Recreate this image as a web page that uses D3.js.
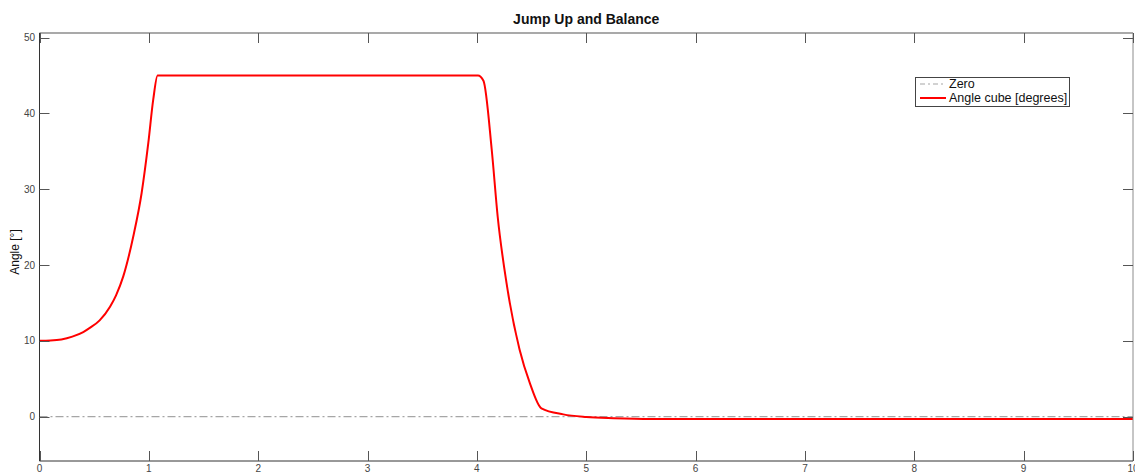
<!DOCTYPE html>
<html>
<head>
<meta charset="utf-8">
<script src="https://cdn.jsdelivr.net/npm/d3@7"></script>
<style>
  body { margin: 0; background: #fff; }
  text { font-family: "Liberation Sans", Arial, sans-serif; }
</style>
</head>
<body>
<div id="chart"></div>
<script>
// data
var timeValues = [0, 0.1, 0.2, 0.3, 0.4, 0.46, 0.55, 0.645, 0.7, 0.766, 0.858, 0.934, 0.995, 1.04, 1.08,
    2.5, 4.01, 4.06, 4.135, 4.19, 4.27, 4.39, 4.485, 4.59, 4.79, 5.0, 5.25, 5.6, 7, 10];
var angleValues = [10, 10.04, 10.18, 10.55, 11.15, 11.7, 12.7, 14.5, 16.0, 18.5, 23.8, 29.5, 36.1, 41.8, 45,
    45, 45, 44.3, 35.3, 26.4, 17.7, 8.85, 4.4, 1.1, 0.3, -0.04, -0.2, -0.3, -0.3, -0.3];
var xTicks = [0, 1, 2, 3, 4, 5, 6, 7, 8, 9, 10];
var yTicks = [0, 10, 20, 30, 40, 50];
var legendLabels = ["Zero", "Angle cube [degrees]"];

var width = 1135, height = 473;
var plot = { left: 39.5, right: 1133, top: 33, bottom: 461 };

var svg = d3.select("#chart")
    .append("svg")
    .attr("width", width)
    .attr("height", height);

var x = d3.scaleLinear().domain([0, 10]).range([plot.left, plot.right]);
var y = d3.scaleLinear().domain([-5.85, 50.6]).range([plot.bottom, plot.top]);

// zero line
svg.append("line")
    .attr("x1", x(0)).attr("x2", x(10))
    .attr("y1", y(0)).attr("y2", y(0))
    .attr("stroke", "#a6a6a6")
    .attr("stroke-width", 1.2)
    .attr("stroke-dasharray", "8,3,2,3");

// angle curve
var data = timeValues.map(function (t, i) { return { t: t, v: angleValues[i] }; });
var line = d3.line()
    .x(function (d) { return x(d.t); })
    .y(function (d) { return y(d.v); })
    .curve(d3.curveMonotoneX);

svg.append("path")
    .datum(data)
    .attr("fill", "none")
    .attr("stroke", "#ff0000")
    .attr("stroke-width", 2)
    .attr("stroke-linejoin", "round")
    .attr("d", line);

// box
svg.append("line").attr("x1", plot.left).attr("x2", plot.right).attr("y1", plot.top).attr("y2", plot.top)
    .attr("stroke", "#8c8c8c").attr("stroke-width", 1.5);
svg.append("line").attr("x1", plot.right).attr("x2", plot.right).attr("y1", plot.top).attr("y2", plot.bottom)
    .attr("stroke", "#8c8c8c").attr("stroke-width", 1);
svg.append("line").attr("x1", plot.left).attr("x2", plot.right).attr("y1", plot.bottom).attr("y2", plot.bottom)
    .attr("stroke", "#333").attr("stroke-width", 1);
svg.append("line").attr("x1", plot.left).attr("x2", plot.left).attr("y1", plot.top).attr("y2", plot.bottom)
    .attr("stroke", "#333").attr("stroke-width", 1);

// ticks (inward, all four sides)
var tickLen = 10;
var tg = svg.append("g").attr("stroke", "#555").attr("stroke-width", 1);
xTicks.forEach(function (t) {
    var px = Math.round(x(t)) + 0.5;
    tg.append("line").attr("x1", px).attr("x2", px).attr("y1", plot.bottom).attr("y2", plot.bottom - tickLen);
    tg.append("line").attr("x1", px).attr("x2", px).attr("y1", plot.top).attr("y2", plot.top + tickLen);
});
yTicks.forEach(function (v) {
    var py = Math.round(y(v)) + 0.5;
    tg.append("line").attr("x1", plot.left).attr("x2", plot.left + tickLen).attr("y1", py).attr("y2", py);
    tg.append("line").attr("x1", plot.right).attr("x2", plot.right - tickLen).attr("y1", py).attr("y2", py);
});

// tick labels
svg.selectAll(".xlab")
    .data(xTicks)
    .enter().append("text")
    .attr("x", function (d) { return x(d); })
    .attr("y", 472)
    .attr("text-anchor", "middle")
    .attr("font-size", 10)
    .attr("fill", "#444")
    .text(function (d) { return d; });

svg.selectAll(".ylab")
    .data(yTicks)
    .enter().append("text")
    .attr("x", 35)
    .attr("y", function (d) { return y(d) + 3.5; })
    .attr("text-anchor", "end")
    .attr("font-size", 10)
    .attr("fill", "#444")
    .text(function (d) { return d; });

// title and axis label
svg.append("text")
    .attr("x", (plot.left + plot.right) / 2)
    .attr("y", 24)
    .attr("text-anchor", "middle")
    .attr("font-size", 14)
    .attr("font-weight", "bold")
    .attr("fill", "#111")
    .text("Jump Up and Balance");

svg.append("text")
    .attr("transform", "translate(19," + 252 + ") rotate(-90)")
    .attr("text-anchor", "middle")
    .attr("font-size", 12)
    .attr("fill", "#111")
    .text("Angle [°]");

// legend
var legend = svg.append("g");
legend.append("rect")
    .attr("x", 915.5).attr("y", 77.5)
    .attr("width", 154).attr("height", 29)
    .attr("fill", "#fff")
    .attr("stroke", "#444");

legend.selectAll("line")
    .data(legendLabels)
    .enter().append("line")
    .attr("x1", 920).attr("x2", 946)
    .attr("y1", function (d, i) { return 84 + i * 14; })
    .attr("y2", function (d, i) { return 84 + i * 14; })
    .attr("stroke", function (d, i) { return i === 0 ? "#a6a6a6" : "#ff0000"; })
    .attr("stroke-width", function (d, i) { return i === 0 ? 1.2 : 2; })
    .attr("stroke-dasharray", function (d, i) { return i === 0 ? "5,3,2,3" : null; });

legend.selectAll("text")
    .data(legendLabels)
    .enter().append("text")
    .attr("x", 949)
    .attr("y", function (d, i) { return 88 + i * 14; })
    .attr("font-size", 12.5)
    .attr("fill", "#111")
    .text(function (d) { return d; });
</script>
</body>
</html>
